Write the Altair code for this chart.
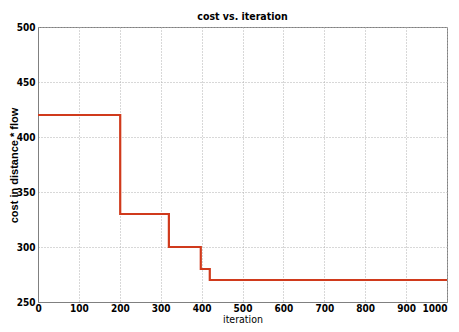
import altair as alt
import pandas as pd

iterations = [0, 201, 320, 398, 420, 1000]
costs = [420, 330, 300, 280, 270, 270]

df = pd.DataFrame({"iteration": iterations, "cost": costs})

FONT = "DejaVu Sans Condensed"

line = alt.Chart(df).mark_line(
    interpolate="step-after", color="#d03a1c", strokeWidth=2.2
).encode(
    x=alt.X("iteration:Q",
            scale=alt.Scale(domain=[0, 1000], nice=False, zero=False),
            axis=alt.Axis(values=list(range(0, 1001, 100)), title="iteration", format="d",
                          grid=True, gridDash=[1, 2], gridColor="#b0b0b0",
                          domainColor="#808080", ticks=False,
                          labelFont=FONT, labelFontWeight="bold", labelFontSize=10,
                          labelColor="black", labelPadding=1,
                          labelAlign=alt.ExprRef(expr="datum.value == 1000 ? 'right' : 'center'"),
                          titleFont=FONT, titleFontWeight="normal", titleFontSize=10.5,
                          titleY=22, titleBaseline="bottom",
                          titleColor="black", labelFlush=False)),
    y=alt.Y("cost:Q",
            scale=alt.Scale(domain=[250, 500], nice=False, zero=False),
            axis=alt.Axis(values=list(range(250, 501, 50)), title="cost in distance * flow",
                          format="d",
                          grid=True, gridDash=[1, 2], gridColor="#b0b0b0",
                          domainColor="#808080", ticks=False,
                          labelFont=FONT, labelFontWeight="bold", labelFontSize=10,
                          labelColor="black", labelPadding=3,
                          titleFont="Liberation Sans", titleFontWeight="bold", titleFontSize=11,
                          titleX=-21, titleY=138, titleAngle=270, titleAlign="center",
                          titleBaseline="alphabetic", titleColor="black")),
)

chart = line.properties(
    width=409,
    height=275,
    title=alt.TitleParams("cost vs. iteration", font=FONT, fontWeight="bold",
                          fontSize=10.5, color="black", offset=0),
    autosize=alt.AutoSizeParams(type="none"),
    padding={"left": 30, "top": 19, "right": 4, "bottom": 22},
).configure_view(stroke="#808080", strokeWidth=1)

chart.save("out.html", embed_options={"renderer": "svg", "actions": False})
